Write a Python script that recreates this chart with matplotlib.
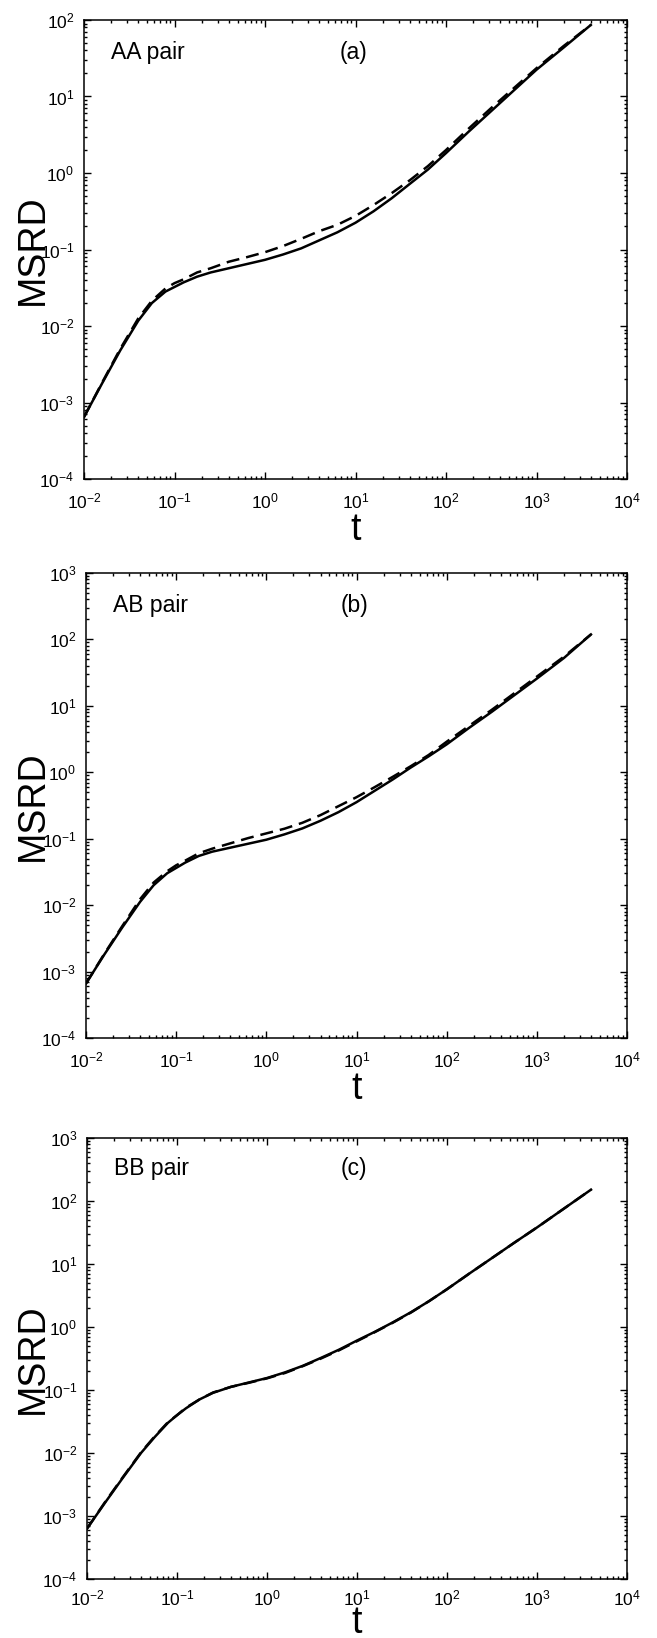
import numpy as np
import matplotlib
matplotlib.use("Agg")
import matplotlib.pyplot as plt
from matplotlib.ticker import LogLocator, FixedLocator

plt.rcParams['font.family'] = ['Liberation Sans', 'DejaVu Sans']
plt.rcParams['mathtext.fontset'] = 'custom'
plt.rcParams['mathtext.rm'] = 'Liberation Sans'
plt.rcParams['mathtext.it'] = 'Liberation Sans'

# log10(t) sample points
log_t = [-2, -1.8, -1.6, -1.4, -1.25, -1.1, -1.0, -0.9, -0.75, -0.6, -0.4, -0.2, 0,
         0.2, 0.4, 0.6, 0.8, 1.0, 1.2, 1.4, 1.6, 1.8, 2.0, 2.25, 2.5, 2.75, 3.0, 3.3, 3.6]

# log10(MSRD) values, panel (a) AA pair
aa_solid = [-3.19, -2.75, -2.32, -1.93, -1.70, -1.55, -1.49, -1.43, -1.355, -1.30, -1.245, -1.19, -1.135,
            -1.065, -0.985, -0.88, -0.775, -0.65, -0.50, -0.33, -0.142, 0.045, 0.26, 0.54, 0.81, 1.08, 1.35, 1.64, 1.935]
aa_dash = [-3.19, -2.74, -2.30, -1.90, -1.67, -1.51, -1.44, -1.39, -1.30, -1.245, -1.16, -1.10, -1.035,
           -0.955, -0.86, -0.76, -0.677, -0.561, -0.418, -0.263, -0.095, 0.09, 0.30, 0.58, 0.85, 1.11, 1.37, 1.66, 1.935]
# panel (b) AB pair
ab_solid = [-3.18, -2.75, -2.34, -1.95, -1.70, -1.52, -1.44, -1.36, -1.26, -1.195, -1.135, -1.075, -1.015,
            -0.935, -0.845, -0.73, -0.60, -0.45, -0.28, -0.11, 0.07, 0.24, 0.42, 0.67, 0.91, 1.16, 1.41, 1.72, 2.075]
ab_dash = [-3.18, -2.74, -2.32, -1.91, -1.66, -1.49, -1.40, -1.33, -1.22, -1.15, -1.07, -0.99, -0.92,
           -0.85, -0.76, -0.645, -0.51, -0.375, -0.225, -0.07, 0.09, 0.26, 0.46, 0.70, 0.94, 1.19, 1.44, 1.74, 2.075]
# panel (c) BB pair
bb_solid = [-3.20, -2.79, -2.39, -2.00, -1.75, -1.52, -1.40, -1.29, -1.15, -1.045, -0.95, -0.88, -0.81,
            -0.72, -0.615, -0.49, -0.36, -0.215, -0.075, 0.075, 0.235, 0.41, 0.60, 0.85, 1.095, 1.34, 1.58, 1.88, 2.18]
bb_dash = [-3.20, -2.78, -2.38, -1.99, -1.74, -1.51, -1.40, -1.28, -1.15, -1.04, -0.95, -0.885, -0.815,
           -0.73, -0.62, -0.50, -0.37, -0.225, -0.08, 0.07, 0.23, 0.41, 0.60, 0.85, 1.095, 1.34, 1.58, 1.88, 2.18]

pair_labels = ['AA pair', 'AB pair', 'BB pair']
panel_labels = ['(a)', '(b)', '(c)']
y_tops = [2, 3, 3]
x_ticks = [-2, -1, 0, 1, 2, 3, 4]

fig = plt.figure(figsize=(6.57, 16.38), dpi=100)
W, H = 657, 1638
boxes = [(84, 20, 627, 479), (86, 573, 627, 1038), (87, 1138, 627, 1579)]
t_baselines = [540, 1099, 1633]
x_pads = [9, 9, 7]
series = [(aa_solid, aa_dash), (ab_solid, ab_dash), (bb_solid, bb_dash)]

t = 10.0 ** np.array(log_t)
for i, (x0, y0, x1, y1) in enumerate(boxes):
    ax = fig.add_axes([x0 / W, 1 - y1 / H, (x1 - x0) / W, (y1 - y0) / H])
    s, d = series[i]
    ax.loglog(t, 10.0 ** np.array(d), color='black', lw=1.8, dashes=(5.2, 2.8))
    ax.loglog(t, 10.0 ** np.array(s), color='black', lw=1.8)
    ax.set_xlim(1e-2, 1e4)
    ax.set_ylim(1e-4, 10.0 ** y_tops[i])
    ax.xaxis.set_major_locator(FixedLocator([10.0 ** k for k in x_ticks]))
    ax.yaxis.set_major_locator(FixedLocator([10.0 ** k for k in range(-4, y_tops[i] + 1)]))
    ax.xaxis.set_minor_locator(LogLocator(base=10, subs=np.arange(2, 10), numticks=50))
    ax.yaxis.set_minor_locator(LogLocator(base=10, subs=np.arange(2, 10), numticks=50))
    ax.tick_params(which='both', direction='in', top=True, right=True, labelsize=12.5, width=1)
    ax.tick_params(which='major', length=5)
    ax.tick_params(axis='x', which='major', pad=x_pads[i])
    ax.tick_params(axis='y', which='major', pad=7)
    ax.tick_params(which='minor', length=2.5)
    for sp in ax.spines.values():
        sp.set_linewidth(1.1)
    hgt = y1 - y0
    ax.set_xlabel('t', fontsize=27, va='baseline')
    ax.xaxis.set_label_coords(0.5, -(t_baselines[i] - y1) / hgt)
    ax.set_ylabel('MSRD', fontsize=27)
    ax.yaxis.set_label_coords((51 - x0) / (x1 - x0), 0.5)
    ax.text(0.05, 0.93, pair_labels[i], transform=ax.transAxes, fontsize=16.5, va='center', ha='left')
    ax.text(0.47, 0.93, panel_labels[i], transform=ax.transAxes, fontsize=16.5, va='center', ha='left')

fig.savefig('out.png', dpi=100)
